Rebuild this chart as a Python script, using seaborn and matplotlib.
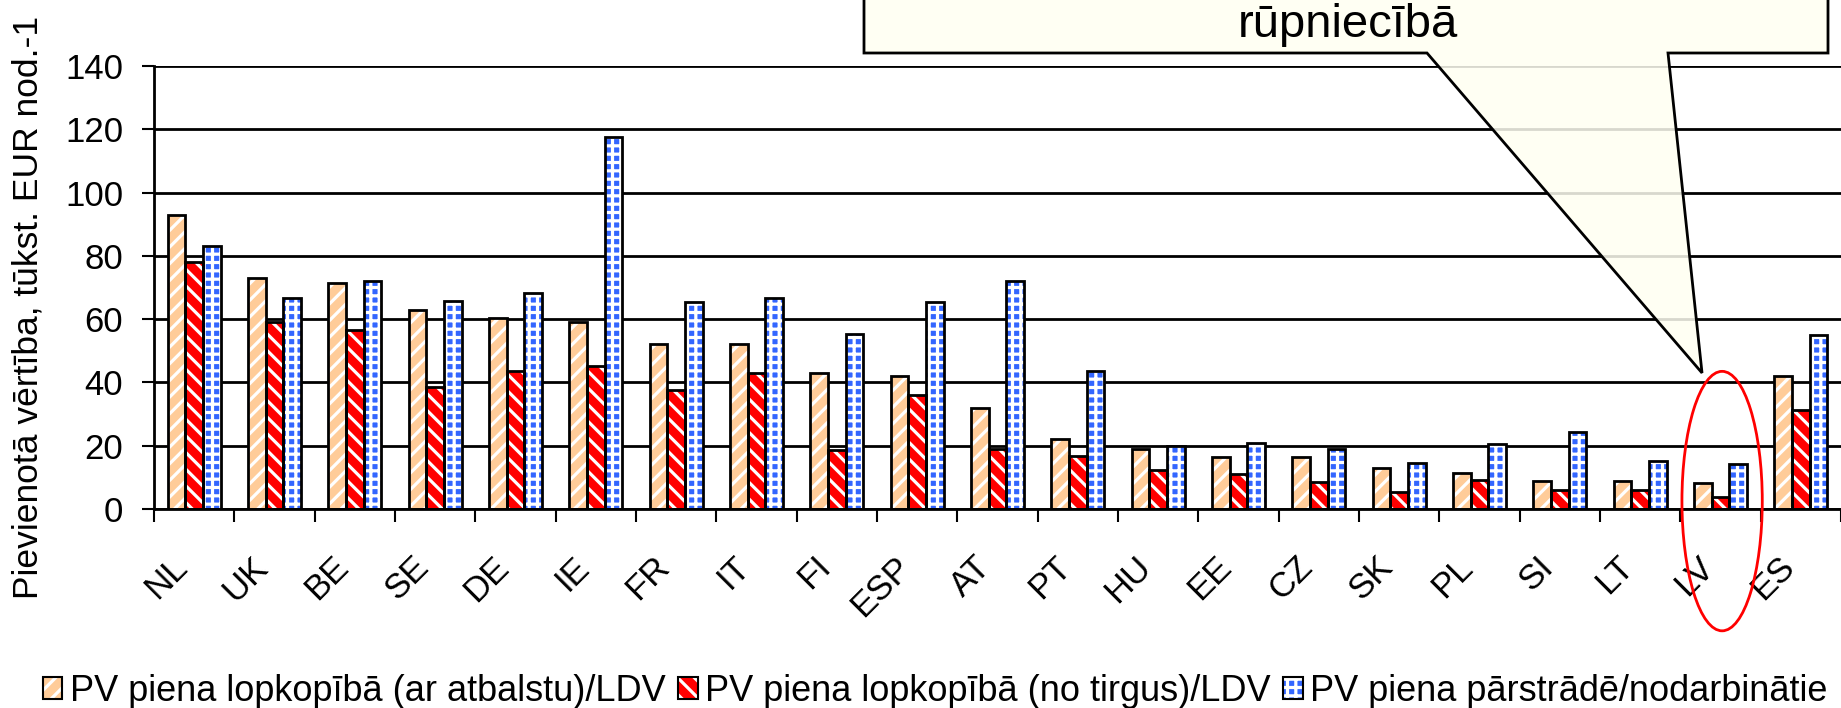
import numpy as np
import pandas as pd
import seaborn as sns
import matplotlib.pyplot as plt
import matplotlib.transforms as mtransforms
from matplotlib.patches import Patch, Rectangle, Ellipse, Polygon

# --- data (tūkst. EUR per worker) ---
COUNTRIES = ["NL", "UK", "BE", "SE", "DE", "IE", "FR", "IT", "FI", "ESP", "AT",
             "PT", "HU", "EE", "CZ", "SK", "PL", "SI", "LT", "LV", "ES"]
SUPPORTED = [93, 73, 71.5, 63, 60.5, 59, 52, 52, 43, 42, 32,
             22, 19, 16.5, 16.5, 12.8, 11.3, 8.9, 8.9, 8.1, 42]
MARKET = [78.2, 59, 56.6, 38.5, 43.7, 45.2, 37.7, 43.1, 18.5, 36, 18.9,
          16.8, 12.3, 11.2, 8.4, 5.3, 9.2, 6.1, 6.1, 3.8, 31.2]
PROCESSING = [83, 66.8, 72.2, 65.8, 68.4, 117.5, 65.3, 66.8, 55.2, 65.3, 72.2,
              43.7, 20, 20.8, 18.9, 14.5, 20.6, 24.2, 15.1, 14.3, 55]
SERIES = ["PV piena lopkopībā (ar atbalstu)/LDV",
          "PV piena lopkopībā (no tirgus)/LDV",
          "PV piena pārstrādē/nodarbinātie"]
Y_TICKS = [0, 20, 40, 60, 80, 100, 120, 140]
Y_LABEL = "Pievienotā vērtība, tūkst. EUR nod.-1"
CALLOUT_TEXT = "rūpniecībā"
HIGHLIGHT = "LV"

COLOURS = ["#FFCC99", "#FF0000", "#3366FF"]
HATCHES = ["//", "\\\\", "++"]

sns.set_theme(style="white")
plt.rcParams["font.family"] = ["Liberation Sans", "DejaVu Sans"]
plt.rcParams["hatch.linewidth"] = 2.3
for key in ["text.color", "axes.labelcolor", "xtick.color", "ytick.color"]:
    plt.rcParams[key] = "black"

df = pd.DataFrame({
    "country": COUNTRIES * 3,
    "series": np.repeat(SERIES, len(COUNTRIES)),
    "value": SUPPORTED + MARKET + PROCESSING,
})

W, H = 1841, 708
fig = plt.figure(figsize=(W / 100, H / 100), dpi=100)
ax = fig.add_axes([154 / W, 1 - 509 / H, 1 - 154 / W, 443 / H])

sns.barplot(data=df, x="country", y="value", hue="series", order=COUNTRIES,
            hue_order=SERIES, palette=COLOURS, width=0.66, saturation=1,
            edgecolor="white", linewidth=0, legend=False, ax=ax)

# hatch fill (white) + separate black outline on every bar
n = len(COUNTRIES)
for i, p in enumerate(list(ax.patches)):
    p.set_hatch(HATCHES[i // n])
    ax.add_patch(Rectangle(p.get_xy(), p.get_width(), p.get_height(), fill=False,
                           edgecolor="black", linewidth=2, zorder=p.get_zorder() + 0.1))

ax.set_ylim(0, 140)
ax.set_xlim(-0.5, n - 0.5 - 6 / 80.6)
ax.set_xlabel("")
ax.set_ylabel("")
ax.set_yticks(Y_TICKS)
ax.grid(axis="y", color="black", linewidth=2)
ax.set_axisbelow(True)
sns.despine(ax=ax)
for side in ["left", "bottom"]:
    ax.spines[side].set_color("black")
    ax.spines[side].set_linewidth(2)

ax.tick_params(axis="y", left=True, length=8.6, width=1.5, pad=13.5,
               labelsize=25, colors="black")
ax.set_xticks(range(n))
ax.set_xticks(np.arange(-0.5, n, 1), minor=True)
ax.tick_params(axis="x", which="minor", bottom=True, length=9.4, width=1.5, color="black")
ax.tick_params(axis="x", which="major", bottom=True, length=0, pad=38, labelsize=25,
               labelcolor="black")
shift = mtransforms.ScaledTranslation(-12 / 100, 0, fig.dpi_scale_trans)
for lab in ax.get_xticklabels():
    lab.set_rotation(45)
    lab.set_ha("right")
    lab.set_va("center")
    lab.set_rotation_mode("anchor")
    lab.set_transform(lab.get_transform() + shift)

fig.text(28 / W, 1 - 307 / H, Y_LABEL, rotation=90, ha="center", va="center",
         fontsize=25.5, color="black")

# callout box with wedge pointing at the highlighted group
hx = COUNTRIES.index(HIGHLIGHT)
tip = fig.transFigure.inverted().transform(ax.transData.transform((hx - 0.23, 43)))
yb = 1 - 53 / H
poly = [(864 / W, yb), (1427 / W, yb), tuple(tip), (1668 / W, yb),
        (1828 / W, yb), (1828 / W, 1.05), (864 / W, 1.05)]
fig.add_artist(Polygon(poly, closed=True, transform=fig.transFigure,
                       facecolor=(1, 1, 0.95, 0.85), edgecolor="black", linewidth=2))
fig.text(1348 / W, 1 - 37 / H, CALLOUT_TEXT, ha="center", va="baseline", fontsize=34,
         color="black")

ax.add_patch(Ellipse((hx + 0.02, 2.5), 1.0, 82, fill=False, edgecolor="red",
                     linewidth=2, clip_on=False, zorder=5))

handles = [(Patch(facecolor=c, hatch=h, edgecolor="white", linewidth=0),
            Patch(fill=False, edgecolor="black", linewidth=1.5))
           for c, h in zip(COLOURS, HATCHES)]
fig.legend(handles, SERIES, loc="center", bbox_to_anchor=(0.508, 0.024), ncol=3,
           frameon=False, fontsize=26, handlelength=0.55, handleheight=0.55,
           handletextpad=0.2, columnspacing=0.35, borderpad=0, borderaxespad=0,
           labelcolor="black")

fig.savefig("out.png", dpi=100)
